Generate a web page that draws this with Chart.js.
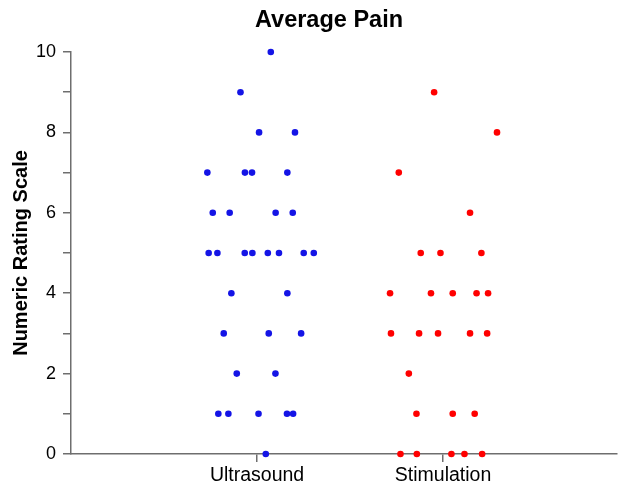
<!DOCTYPE html>
<html lang="en">
<head>
    <meta charset="UTF-8">
    <title>Average Pain</title>
    <script src="https://cdn.jsdelivr.net/npm/chart.js"></script>
    <style>
        html, body { margin: 0; padding: 0; background: #fff; }
        canvas { display: block; }
    </style>
</head>
<body>
    <canvas id="painChart" width="621" height="484"></canvas>

    <script>
        // Groups on the x axis
        const categories = ['Ultrasound', 'Stimulation'];

        // Ultrasound group: scores and horizontal jitter
        const usScores = [10, 9, 8, 8, 7, 7, 7, 7, 6, 6, 6, 6,
                          5, 5, 5, 5, 5, 5, 5, 5, 4, 4, 3, 3, 3, 2, 2,
                          1, 1, 1, 1, 1, 0];
        const usJitter = [0.074, -0.089, 0.011, 0.204, -0.267, -0.065, -0.027, 0.163,
                          -0.238, -0.147, 0.100, 0.192,
                          -0.260, -0.213, -0.066, -0.025, 0.058, 0.118, 0.251, 0.305,
                          -0.138, 0.163, -0.179, 0.063, 0.237, -0.109, 0.099,
                          -0.208, -0.154, 0.008, 0.161, 0.194, 0.047];

        // Stimulation group
        const stScores = [9, 8, 7, 6, 5, 5, 5, 4, 4, 4, 4, 4,
                          3, 3, 3, 3, 3, 2, 1, 1, 1, 0, 0, 0, 0, 0];
        const stJitter = [-0.048, 0.290, -0.238, 0.145, -0.120, -0.014, 0.206,
                          -0.285, -0.065, 0.052, 0.180, 0.242,
                          -0.280, -0.129, -0.027, 0.145, 0.237, -0.184,
                          -0.143, 0.052, 0.170,
                          -0.229, -0.141, 0.045, 0.115, 0.210];

        const yTicks = [0, 2, 4, 6, 8, 10];
        const chartTitle = 'Average Pain';

        function toPoints(groupIndex, scores, jitter) {
            return scores.map((s, i) => ({ x: groupIndex + 1 + jitter[i], y: s }));
        }

        const axisColor = '#6e6e6e';
        const fontFamily = '"Liberation Sans", Arial, sans-serif';

        // title sits a bit right of the canvas centre in the original
        const titlePlugin = {
            id: 'offsetTitle',
            afterDraw(chart) {
                const c = chart.ctx;
                c.save();
                c.font = 'bold 23.5px ' + fontFamily;
                c.fillStyle = '#000';
                c.textAlign = 'center';
                c.textBaseline = 'middle';
                c.fillText(chartTitle, 329, 21);
                c.restore();
            }
        };

        const config = {
            type: 'scatter',
            data: {
                datasets: [
                    {
                        label: categories[0],
                        data: toPoints(0, usScores, usJitter),
                        backgroundColor: 'rgb(20, 20, 230)',
                        borderWidth: 0,
                        pointRadius: 3.3,
                        clip: false
                    },
                    {
                        label: categories[1],
                        data: toPoints(1, stScores, stJitter),
                        backgroundColor: 'rgb(255, 0, 0)',
                        borderWidth: 0,
                        pointRadius: 3.3,
                        clip: false
                    }
                ]
            },
            options: {
                responsive: false,
                animation: false,
                layout: { padding: { top: 52, left: 0, right: 0, bottom: 0 } },
                plugins: {
                    legend: { display: false },
                    tooltip: { enabled: false },
                    title: { display: false }
                },
                scales: {
                    x: {
                        type: 'linear',
                        min: 0,
                        max: 2.935,
                        afterBuildTicks: scale => {
                            scale.ticks = categories.map((c, i) => ({ value: i + 1 }));
                        },
                        afterFit: scale => { scale.height = 30; },
                        ticks: {
                            callback: v => categories[v - 1],
                            color: '#000',
                            font: { family: fontFamily, size: 19.5 },
                            padding: 2,
                            maxRotation: 0
                        },
                        grid: {
                            drawOnChartArea: false,
                            drawTicks: true,
                            tickLength: 8,
                            color: axisColor,
                            lineWidth: 1.5
                        },
                        border: { color: axisColor, width: 1.5 }
                    },
                    y: {
                        min: 0,
                        max: 10,
                        afterFit: scale => { scale.width = 71; },
                        ticks: {
                            stepSize: 1,
                            callback: v => yTicks.includes(v) ? v : '',
                            color: '#000',
                            font: { family: fontFamily, size: 18 },
                            padding: 7
                        },
                        grid: {
                            drawOnChartArea: false,
                            drawTicks: true,
                            tickLength: 8,
                            color: axisColor,
                            lineWidth: 1.5
                        },
                        border: { color: axisColor, width: 1.5 },
                        title: {
                            display: true,
                            text: 'Numeric Rating Scale',
                            color: '#000',
                            font: { family: fontFamily, size: 20, weight: 'bold' },
                            padding: { top: 9, bottom: 0 }
                        }
                    }
                }
            },
            plugins: [titlePlugin]
        };

        const ctx = document.getElementById('painChart').getContext('2d');
        const painChart = new Chart(ctx, config);
    </script>
</body>
</html>
